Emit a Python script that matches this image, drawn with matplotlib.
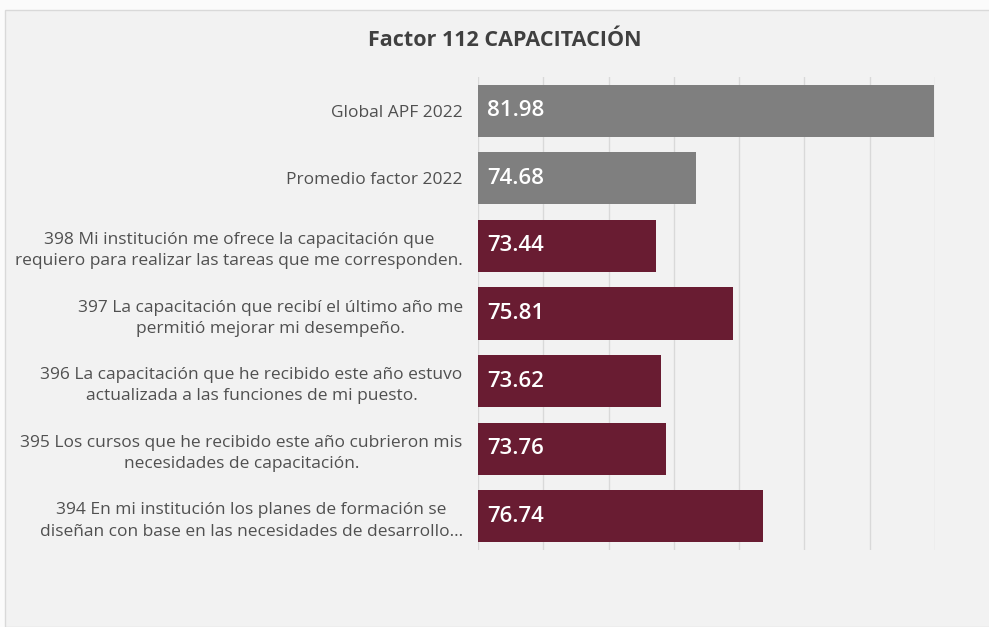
import matplotlib.pyplot as plt
import matplotlib.patches as mpatches

categories = [
    "Global APF 2022",
    "Promedio factor 2022",
    "398 Mi institución me ofrece la capacitación que\nrequiero para realizar las tareas que me corresponden.",
    "397 La capacitación que recibí el último año me\npermitió mejorar mi desempeño.",
    "396 La capacitación que he recibido este año estuvo\nactualizada a las funciones de mi puesto.",
    "395 Los cursos que he recibido este año cubrieron mis\nnecesidades de capacitación.",
    "394 En mi institución los planes de formación se\ndiseñan con base en las necesidades de desarrollo...",
]
values = [81.98, 74.68, 73.44, 75.81, 73.62, 73.76, 76.74]
colors = ["#7f7f7f", "#7f7f7f", "#691c32", "#691c32", "#691c32", "#691c32", "#691c32"]
title = "Factor 112 CAPACITACIÓN"
xmin, xmax = 68, 82

plt.rcParams['font.family'] = ['Open Sans', 'DejaVu Sans']

fig = plt.figure(figsize=(9.89, 6.27), dpi=100)
fig.patch.set_facecolor("#fbfbfb")
bg = mpatches.Rectangle((5/989, 0), 1, 1 - 10/627, transform=fig.transFigure,
                        facecolor="#f2f2f2", edgecolor="#d9d9d9", lw=1, zorder=-10)
fig.add_artist(bg)

ax = fig.add_axes([478/989, 1 - 550/627, (935 - 478)/989, (550 - 77)/627])
ax.set_zorder(5)
ax.set_facecolor("none")
n = len(categories)
ypos = list(range(n))
ax.barh(ypos, [v - xmin for v in values], left=xmin, height=0.77, color=colors, zorder=3)
ax.set_xlim(xmin, xmax)
ax.set_ylim(n - 0.5, -0.5)
ax.set_xticks(range(xmin, xmax + 1, 2))
ax.set_xticklabels([])
ax.tick_params(axis='x', length=0)
ax.tick_params(axis='y', length=0, pad=11)
ax.grid(axis='x', color="#d9d9d9", lw=1, zorder=0)
ax.set_yticks(ypos)
ax.set_yticklabels(categories, fontsize=12.5, color="#505050", ha='right',
                   multialignment='center', linespacing=1.45)
for s in ax.spines.values():
    s.set_visible(False)

for y, v in zip(ypos, values):
    ax.text(xmin + 0.27, y, f"{v:.2f}", color="white", fontsize=16, va='center', ha='left',
            fontweight='semibold', zorder=4)

fig.text(505/989, 1 - 40/627, title, fontsize=15.5, fontweight='bold', color="#404040",
         ha='center', va='center')

fig.savefig("out.png", dpi=100, facecolor=fig.get_facecolor())
